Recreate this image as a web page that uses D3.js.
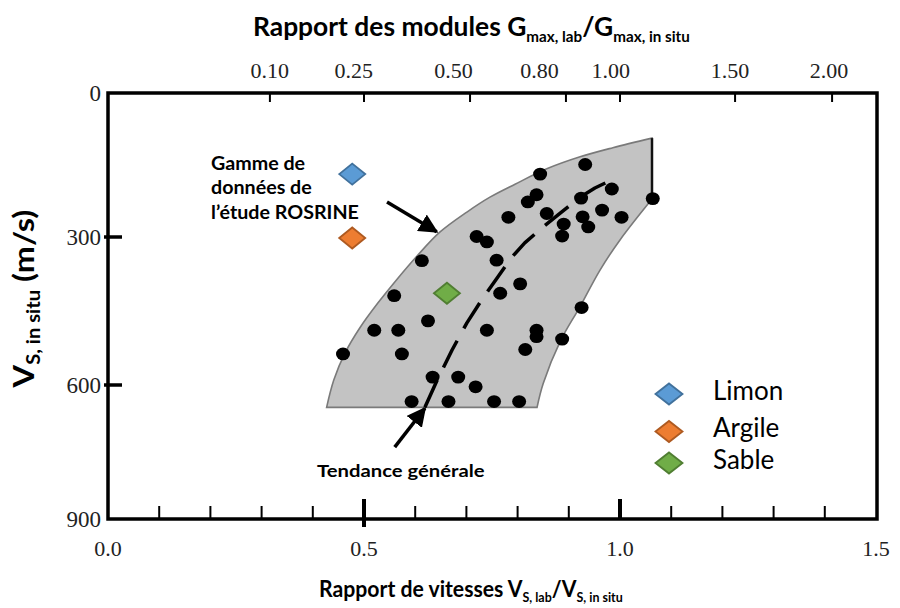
<!DOCTYPE html>
<html><head><meta charset="utf-8">
<script src="https://cdn.jsdelivr.net/npm/d3@7/dist/d3.min.js"></script>
<style>body{margin:0;background:#fff}</style>
</head><body>
<svg id="chart" width="900" height="608"></svg>
<script>
// ---------- DATA ----------
// Black dots: velocity ratio Vs,lab/Vs,in situ and Vs,in situ (m/s)
const dotRatio = [0.613,0.720,0.740,0.759,0.805,0.766,0.782,0.820,0.837,0.844,
                  0.932,0.857,0.924,0.984,1.064,0.965,0.927,0.938,1.003,0.890,
                  0.887,0.559,0.625,0.520,0.567,0.740,0.837,0.837,0.925,0.887,
                  0.815,0.459,0.574,0.634,0.684,0.718,0.593,0.665,0.754,0.803];
const dotVs    = [348,299,310,347,395,414,259,227,212,169,
                  149,251,219,200,220,244,258,279,259,273,
                  298,419,470,489,489,489,489,502,443,507,
                  528,537,537,584,584,604,637,637,637,637];
// General trend (dashed line)
const trendRatio = [0.619,0.643,0.672,0.701,0.732,0.760,0.787,0.814,0.850,0.879,0.922,0.951,0.984,0.986];
const trendVs    = [650,590,529,474,424,383,343,312,279,254,217,198,181,197];
// ROSRINE data envelope: upper-left edge (bottom -> top) and right edge (top -> bottom)
const envTopRatio   = [0.427,0.441,0.463,0.492,0.527,0.565,0.604,0.648,0.701,0.746,0.795,0.857,0.922,0.986,1.0625];
const envTopVs      = [650,590,535,484,434,385,338,290,248,217,190,158,133,114,94];
const envRightRatio = [1.0625,1.000,0.961,0.922,0.883,0.850,0.838];
const envRightVs    = [221,306,367,441,512,597,650];
// Soil samples (diamonds)
const soilNames  = ["Limon","Argile","Sable"];
const soilRatio  = [0.477,0.477,0.662];
const soilVs     = [169,302,414];
const soilFill   = ["#5B9BD5","#ED7D31","#70AD47"];
const soilStroke = ["#41719C","#AE5A21","#507E32"];
// Axes ticks
const bottomTicks  = [0.0,0.5,1.0,1.5];
const bottomLabels = ["0.0","0.5","1.0","1.5"];
const bottomMinor  = [0.1,0.2,0.3,0.4,0.6,0.7,0.8,0.9,1.1,1.2,1.3,1.4];
const topTicks     = [0.10,0.25,0.50,0.80,1.00,1.50,2.00];
const topLabels    = ["0.10","0.25","0.50","0.80","1.00","1.50","2.00"];
// where each top label sits, read on the velocity-ratio axis
const topLabelPos  = [0.316,0.480,0.675,0.843,0.982,1.215,1.408];
const leftTicks    = [0,300,600,900];
const leftLabels   = ["0","300","600","900"];

// ---------- LAYOUT ----------
const L = 108, R = 877, T = 93, B = 519;
const svg = d3.select("#chart");
const x = d3.scaleLinear().domain([0,1.5]).range([L,876]);
const xTop = d3.scaleSqrt().domain([0,2.25]).range([L,876]);
const y = d3.scaleLinear().domain([0,300,600,900]).range([T,237,385,B]);

const sansB = "Lato, 'Open Sans', sans-serif";
const serif = "'Liberation Serif', 'DejaVu Serif', serif";

// envelope
const curve = d3.line().x(d=>x(d[0])).y(d=>y(d[1])).curve(d3.curveCatmullRom.alpha(0.5));
const topPts = envTopRatio.map((v,i)=>[v,envTopVs[i]]);
const rightPts = envRightRatio.map((v,i)=>[v,envRightVs[i]]);
const envPath = curve(topPts) + curve(rightPts).replace(/^M/,"L") + "Z";
svg.append("path").attr("d",envPath).attr("fill","#c3c3c3").attr("stroke","#7a7a7a").attr("stroke-width",1.6);
svg.append("line")
  .attr("x1",x(envTopRatio[envTopRatio.length-1])).attr("y1",y(envTopVs[envTopVs.length-1]))
  .attr("x2",x(envRightRatio[0])).attr("y2",y(envRightVs[0]))
  .attr("stroke","#111").attr("stroke-width",2.5);

// dots
svg.append("g").selectAll("ellipse").data(dotRatio).join("ellipse")
  .attr("cx",(d)=>x(d)).attr("cy",(d,i)=>y(dotVs[i]))
  .attr("rx",7).attr("ry",6.4).attr("fill","#000");

// trend
svg.append("path")
  .attr("d", d3.line().x((d,i)=>x(d)).y((d,i)=>y(trendVs[i])).curve(d3.curveLinear)(trendRatio))
  .attr("fill","none").attr("stroke","#000").attr("stroke-width",3.5)
  .attr("stroke-linejoin","round")
  .attr("stroke-dasharray","30,14");

// diamonds
function diamond(cx,cy,w,h){return `M${cx-w/2},${cy}L${cx},${cy-h/2}L${cx+w/2},${cy}L${cx},${cy+h/2}Z`;}
svg.append("g").selectAll("path").data(soilRatio).join("path")
  .attr("d",(d,i)=>diamond(x(d),y(soilVs[i]),26,21))
  .attr("fill",(d,i)=>soilFill[i]).attr("stroke",(d,i)=>soilStroke[i]).attr("stroke-width",1.8);

// frame
svg.append("rect").attr("x",L).attr("y",T).attr("width",R-L).attr("height",B-T)
  .attr("fill","none").attr("stroke","#000").attr("stroke-width",3.5);

// bottom axis ticks
const gb = svg.append("g");
gb.selectAll("line.minor").data(bottomMinor).join("line")
  .attr("x1",d=>x(d)).attr("x2",d=>x(d)).attr("y1",B-13).attr("y2",B)
  .attr("stroke","#000").attr("stroke-width",2);
gb.selectAll("line.major").data(bottomTicks.filter(d=>d>0&&d<1.5)).join("line")
  .attr("x1",d=>x(d)).attr("x2",d=>x(d)).attr("y1",B-20).attr("y2",(d)=>d===0.5?B+8:B)
  .attr("stroke","#000").attr("stroke-width",4);
gb.selectAll("text").data(bottomTicks).join("text")
  .attr("x",d=>x(d)).attr("y",556).attr("text-anchor","middle")
  .attr("font-family",serif).attr("font-size",22).attr("fill","#222")
  .text((d,i)=>bottomLabels[i]);

// top axis
const gt = svg.append("g");
gt.selectAll("line").data(topTicks).join("line")
  .attr("x1",d=>xTop(d)).attr("x2",d=>xTop(d)).attr("y1",T).attr("y2",T+9)
  .attr("stroke","#000").attr("stroke-width",2);
gt.selectAll("text").data(topTicks).join("text")
  .attr("x",(d,i)=>x(topLabelPos[i])).attr("y",78).attr("text-anchor","middle")
  .attr("font-family",serif).attr("font-size",22).attr("fill","#222")
  .text((d,i)=>topLabels[i]);

// left axis
const gl = svg.append("g");
gl.selectAll("line").data(leftTicks.filter(d=>d>0&&d<900)).join("line")
  .attr("x1",L-4).attr("x2",L+14).attr("y1",d=>y(d)).attr("y2",d=>y(d))
  .attr("stroke","#000").attr("stroke-width",3.5);
gl.selectAll("text").data(leftTicks).join("text")
  .attr("x",101).attr("y",d=>y(d)).attr("dy","0.35em").attr("text-anchor","end")
  .attr("font-family",serif).attr("font-size",23).attr("fill","#222")
  .text((d,i)=>leftLabels[i]);

// helper: text with subscripts
function richText(parent, parts, size, subSize, weight, drop){
  const t = parent.append("text").attr("font-family",sansB).attr("font-weight",weight)
    .attr("font-size",size).attr("fill","#000");
  let low=false;
  parts.forEach(p=>{
    const sub = p[1];
    const ts = t.append("tspan").text(p[0]);
    if(sub){ts.attr("font-size",subSize); if(!low){ts.attr("dy",drop);low=true;}}
    else if(low){ts.attr("dy",-drop);low=false;}
  });
  return t;
}
function fit(g, x0, yb, width){
  const w = g.node().getBBox().width;
  g.attr("transform",`translate(${x0},${yb}) scale(${width/w},1)`);
}

// top title
const g1 = svg.append("g");
richText(g1,[["Rapport des modules G"],["max, lab",1],["/G"],["max, in situ",1]],26,15,700,6);
fit(g1,253,36,437);
// bottom title
const g2 = svg.append("g");
richText(g2,[["Rapport de vitesses V"],["S, lab",1],["/V"],["S, in situ",1]],23,13.5,700,5);
fit(g2,319,597,304);
// y title (rotated)
const g3 = svg.append("g");
const g3i = g3.append("g");
richText(g3i,[["V"],["S, in situ",1],[" (m/s)"]],29,18,700,6);
const w3n = g3i.node().getBBox().width;
const s3 = Math.min(1.12, 220/w3n);
g3i.attr("transform",`scale(${s3},1)`);
g3.attr("transform",`translate(34,${298+w3n*s3/2}) rotate(-90)`);

// annotations
const ann = svg.append("g");
const annLines = ["Gamme de","données de","l’étude ROSRINE"];
ann.selectAll("text").data(annLines).join("text")
  .attr("x",0).attr("y",(d,i)=>i*24.5)
  .attr("font-family",sansB).attr("font-weight",700).attr("font-size",19).text(d=>d);
fit(ann,211,170,148);
const ann2 = svg.append("g");
ann2.append("text").attr("font-family",sansB).attr("font-weight",700).attr("font-size",16.5).text("Tendance générale");
fit(ann2,317,477,168);

// arrows
const defs = svg.append("defs");
defs.append("marker").attr("id","ah").attr("viewBox","0 0 10 10").attr("refX",9).attr("refY",5)
  .attr("markerWidth",5.5).attr("markerHeight",5.5).attr("markerUnits","strokeWidth").attr("orient","auto")
  .append("path").attr("d","M0,0L10,5L0,10Z").attr("fill","#000");
const arrows = [[[0.545,227],[0.642,289]],[[0.560,739],[0.619,652]]];
svg.append("g").selectAll("line").data(arrows).join("line")
  .attr("x1",d=>x(d[0][0])).attr("y1",d=>y(d[0][1]))
  .attr("x2",d=>x(d[1][0])).attr("y2",d=>y(d[1][1]))
  .attr("stroke","#000").attr("stroke-width",3.5).attr("marker-end","url(#ah)");

// legend
const leg = svg.append("g");
const legY = [394,431.5,463];
leg.selectAll("path").data(soilNames).join("path")
  .attr("d",(d,i)=>diamond(669,legY[i],27,21))
  .attr("fill",(d,i)=>soilFill[i]).attr("stroke",(d,i)=>soilStroke[i]).attr("stroke-width",1.8);
leg.selectAll("text").data(soilNames).join("text")
  .attr("x",713).attr("y",(d,i)=>legY[i]+3).attr("dy","0.1em")
  .attr("font-family",sansB).attr("font-size",26).attr("fill","#000").text(d=>d);
</script>
</body></html>
